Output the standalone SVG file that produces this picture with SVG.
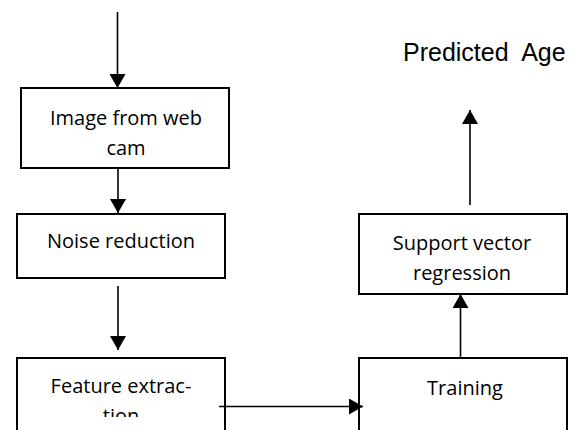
<svg xmlns="http://www.w3.org/2000/svg" width="576" height="430" viewBox="0 0 576 430">
<style>
.box{fill:#fff;stroke:#000;stroke-width:2}
.lbl{font-family:"Open Sans","Liberation Sans",sans-serif;font-size:20px;fill:#000;text-anchor:middle}
.out{font-family:"Liberation Sans",Arial,sans-serif;font-size:25px;fill:#000}
.edge{stroke:#000;stroke-width:1.6;fill:none;marker-end:url(#ah)}
</style>
<defs>
<marker id="ah" viewBox="0 0 14 16" refX="14" refY="8" markerWidth="14" markerHeight="16" markerUnits="userSpaceOnUse" orient="auto">
<path d="M0,0 L14,8 L0,16 z" fill="#000"/>
</marker>
<clipPath id="fclip"><rect x="17" y="358" width="210" height="59"/></clipPath>
</defs>
<rect width="576" height="430" fill="#fff"/>
<g id="image">
<rect class="box" x="21" y="88" width="208" height="80"/>
<text class="lbl" x="126" y="125">Image from web</text>
<text class="lbl" x="126" y="155">cam</text>
</g>
<g id="noise">
<rect class="box" x="17" y="214" width="208" height="64"/>
<text class="lbl" x="121" y="248">Noise reduction</text>
</g>
<g id="feature">
<rect class="box" x="17" y="358" width="208" height="80"/>
<g clip-path="url(#fclip)">
<text class="lbl" x="121" y="393">Feature extrac-</text>
<text class="lbl" x="121" y="423">tion</text>
</g>
</g>
<g id="svr">
<rect class="box" x="359" y="214" width="208" height="80"/>
<text class="lbl" x="462" y="250">Support vector</text>
<text class="lbl" x="462" y="280">regression</text>
</g>
<g id="training">
<rect class="box" x="359" y="358" width="208" height="80"/>
<text class="lbl" x="465" y="395">Training</text>
</g>
<g id="output">
<text class="out" x="403" y="61" xml:space="preserve">Predicted  Age</text>
</g>
<g id="connectors">
<path class="edge" d="M117.5,12 V88"/>
<path class="edge" d="M118,169 V213"/>
<path class="edge" d="M118,286 V350"/>
<path class="edge" d="M219,406.5 H363"/>
<path class="edge" d="M460.5,358 V294"/>
<path class="edge" d="M470,205 V110"/>
</g>
</svg>
